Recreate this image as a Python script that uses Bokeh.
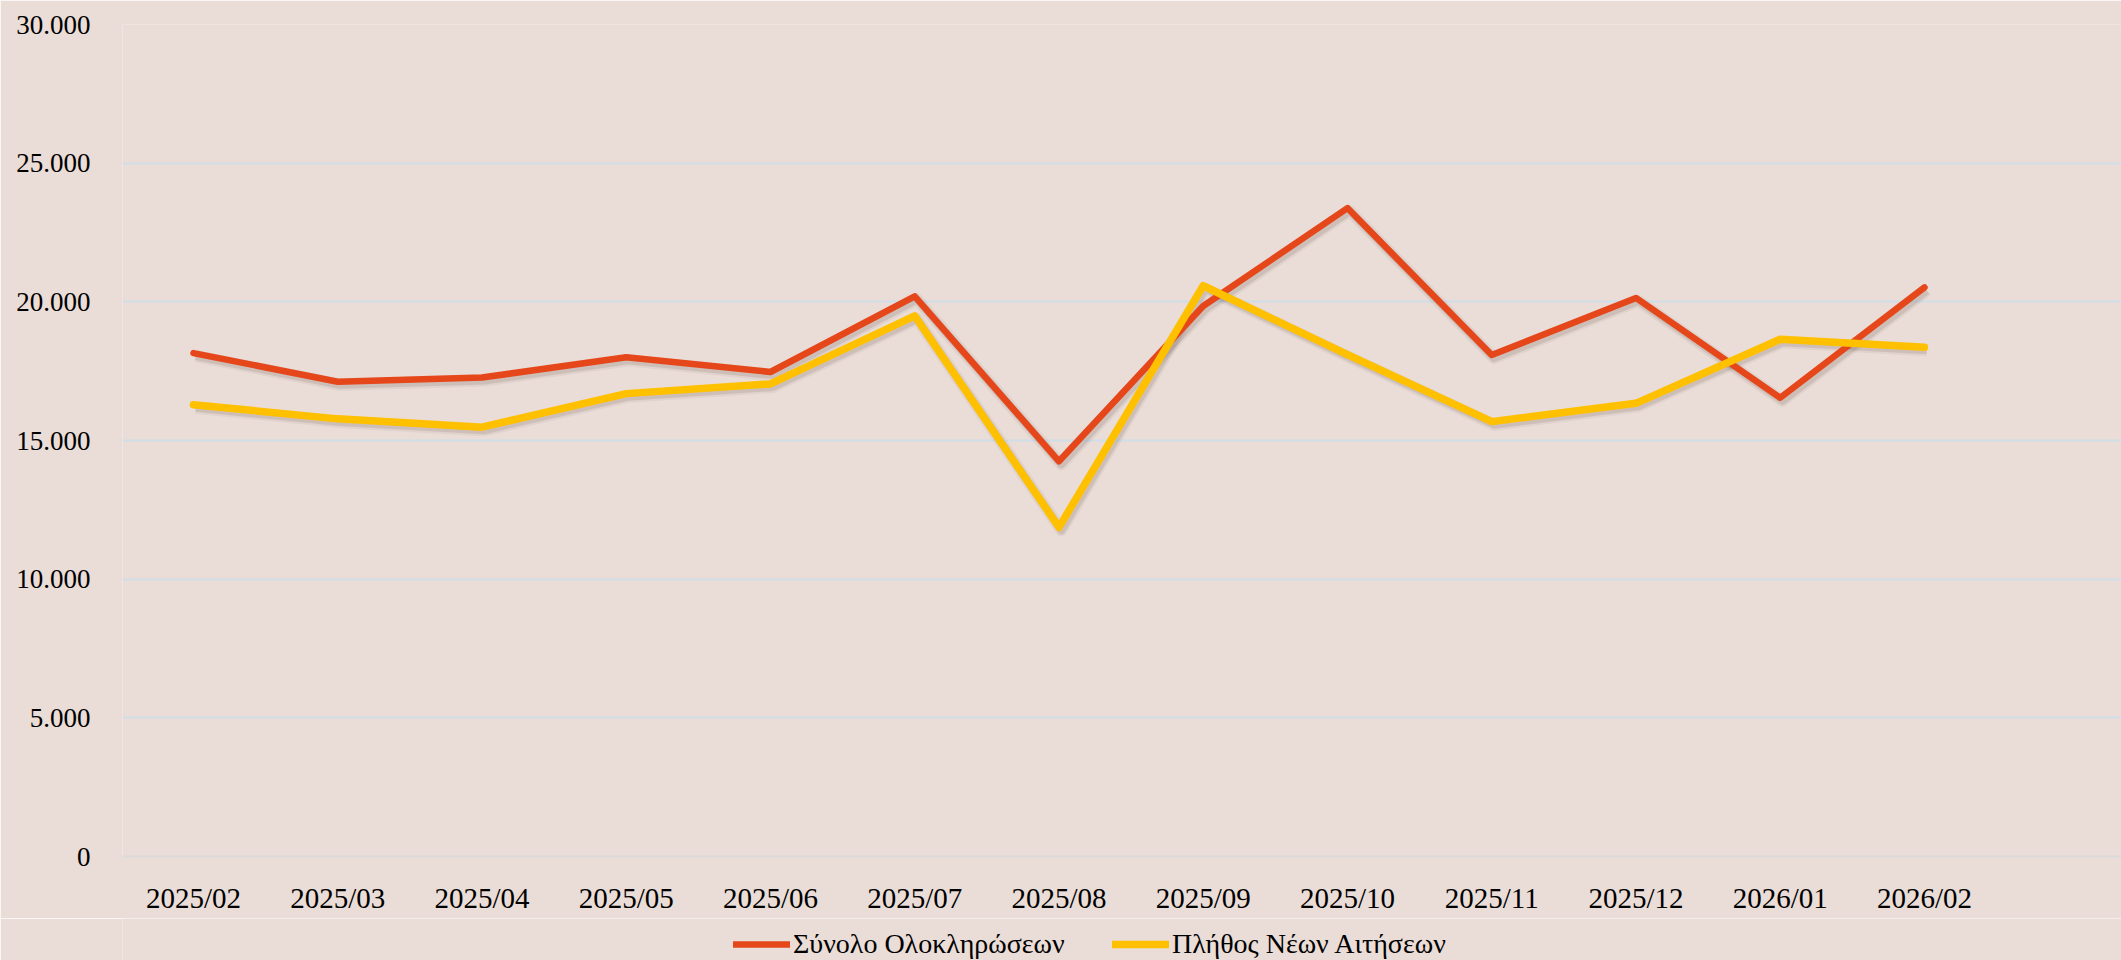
from bokeh.plotting import figure
from bokeh.layouts import column
from bokeh.models import Range1d, FixedTicker, Legend, LegendItem, ColumnDataSource
from bokeh.transform import dodge
from bokeh.embed import file_html
from bokeh.resources import INLINE

months = ["2025/02", "2025/03", "2025/04", "2025/05", "2025/06", "2025/07", "2025/08",
          "2025/09", "2025/10", "2025/11", "2025/12", "2026/01", "2026/02"]
completions = [18150, 17120, 17270, 18000, 17470, 20200, 14250, 19850, 23380, 18080, 20140, 16540, 20520]
new_requests = [16290, 15780, 15480, 16690, 17040, 19490, 11870, 20580, 18100, 15680, 16340, 18650, 18360]
y_ticks = [0, 5000, 10000, 15000, 20000, 25000, 30000]
series_names = ["Σύνολο Ολοκληρώσεων", "Πλήθος Νέων Αιτήσεων"]

BG = "#EADCD6"
RED = "#E5471A"
YEL = "#FFC000"
FONT = "Liberation Serif"
RED_W, YEL_W = 6.5, 7.5

idx = list(range(len(months)))
src = ColumnDataSource(dict(x=idx, a=completions, b=new_requests))

p = figure(frame_width=1999, frame_height=832, output_backend="svg", toolbar_location=None,
           x_range=Range1d(-0.492, 13.366), y_range=Range1d(0, 30000),
           min_border_left=122, min_border_right=0, min_border_top=24, min_border_bottom=62)
p.background_fill_color = BG
p.border_fill_color = BG
p.outline_line_color = None

# soft shadows under the lines
for col in ["a", "b"]:
    for w, al in [(12, 0.06), (8, 0.13)]:
        p.line(x=dodge("x", 0.016), y=dodge(col, -110), source=src, line_width=w,
               line_color="#4a3a34", line_alpha=al, line_join="round")

r1 = p.line(x="x", y="a", source=src, line_width=RED_W, line_color=RED, line_join="round", line_cap="round")
r2 = p.line(x="x", y="b", source=src, line_width=YEL_W, line_color=YEL, line_join="round", line_cap="round")

p.xgrid.grid_line_color = None
p.ygrid.grid_line_color = "#CFDEE8"
p.ygrid.grid_line_width = 2
p.ygrid.ticker = FixedTicker(ticks=y_ticks[1:])

p.yaxis.ticker = FixedTicker(ticks=y_ticks)
p.yaxis.major_label_overrides = {v: f"{v:,}".replace(",", ".") for v in y_ticks}
p.yaxis.axis_line_color = None
p.yaxis.major_tick_line_color = None
p.yaxis.minor_tick_line_color = None
p.yaxis.major_label_standoff = 26
p.yaxis.major_label_text_font = FONT
p.yaxis.major_label_text_font_size = "27px"
p.yaxis.major_label_text_color = "#000000"

p.xaxis.ticker = FixedTicker(ticks=idx)
p.xaxis.major_label_overrides = {i: m for i, m in zip(idx, months)}
p.xaxis.axis_line_color = "#DADADA"
p.xaxis.axis_line_width = 2
p.xaxis.major_tick_line_color = None
p.xaxis.minor_tick_line_color = None
p.xaxis.major_label_standoff = 19
p.xaxis.major_label_text_font = FONT
p.xaxis.major_label_text_font_size = "29px"
p.xaxis.major_label_text_color = "#000000"

# legend strip below the chart (its lines reuse the data, kept outside the strip's view)
lf = figure(width=2121, height=42, output_backend="svg", toolbar_location=None,
            x_range=Range1d(0, 1), y_range=Range1d(-2, -1), x_axis_type=None, y_axis_type=None,
            min_border=0)
lf.background_fill_color = BG
lf.border_fill_color = BG
lf.outline_line_color = None
lf.grid.grid_line_color = None
l1 = lf.line(x="x", y="a", source=src, line_width=RED_W, line_color=RED, line_cap="round")
l2 = lf.line(x="x", y="b", source=src, line_width=YEL_W, line_color=YEL, line_cap="round")

legend = Legend(items=[LegendItem(label=series_names[0], renderers=[l1]),
                       LegendItem(label=series_names[1], renderers=[l2])],
                orientation="horizontal", location=(611, 0),
                padding=0, margin=0, spacing=29, glyph_width=57, glyph_height=30,
                label_width=290, label_standoff=3, border_line_color=None, background_fill_alpha=0,
                label_text_font=FONT, label_text_font_size="28px", label_text_color="#000000")
lf.add_layout(legend, "center")

layout = column(p, lf, spacing=0)
open("out.html", "w").write(file_html(layout, INLINE))
